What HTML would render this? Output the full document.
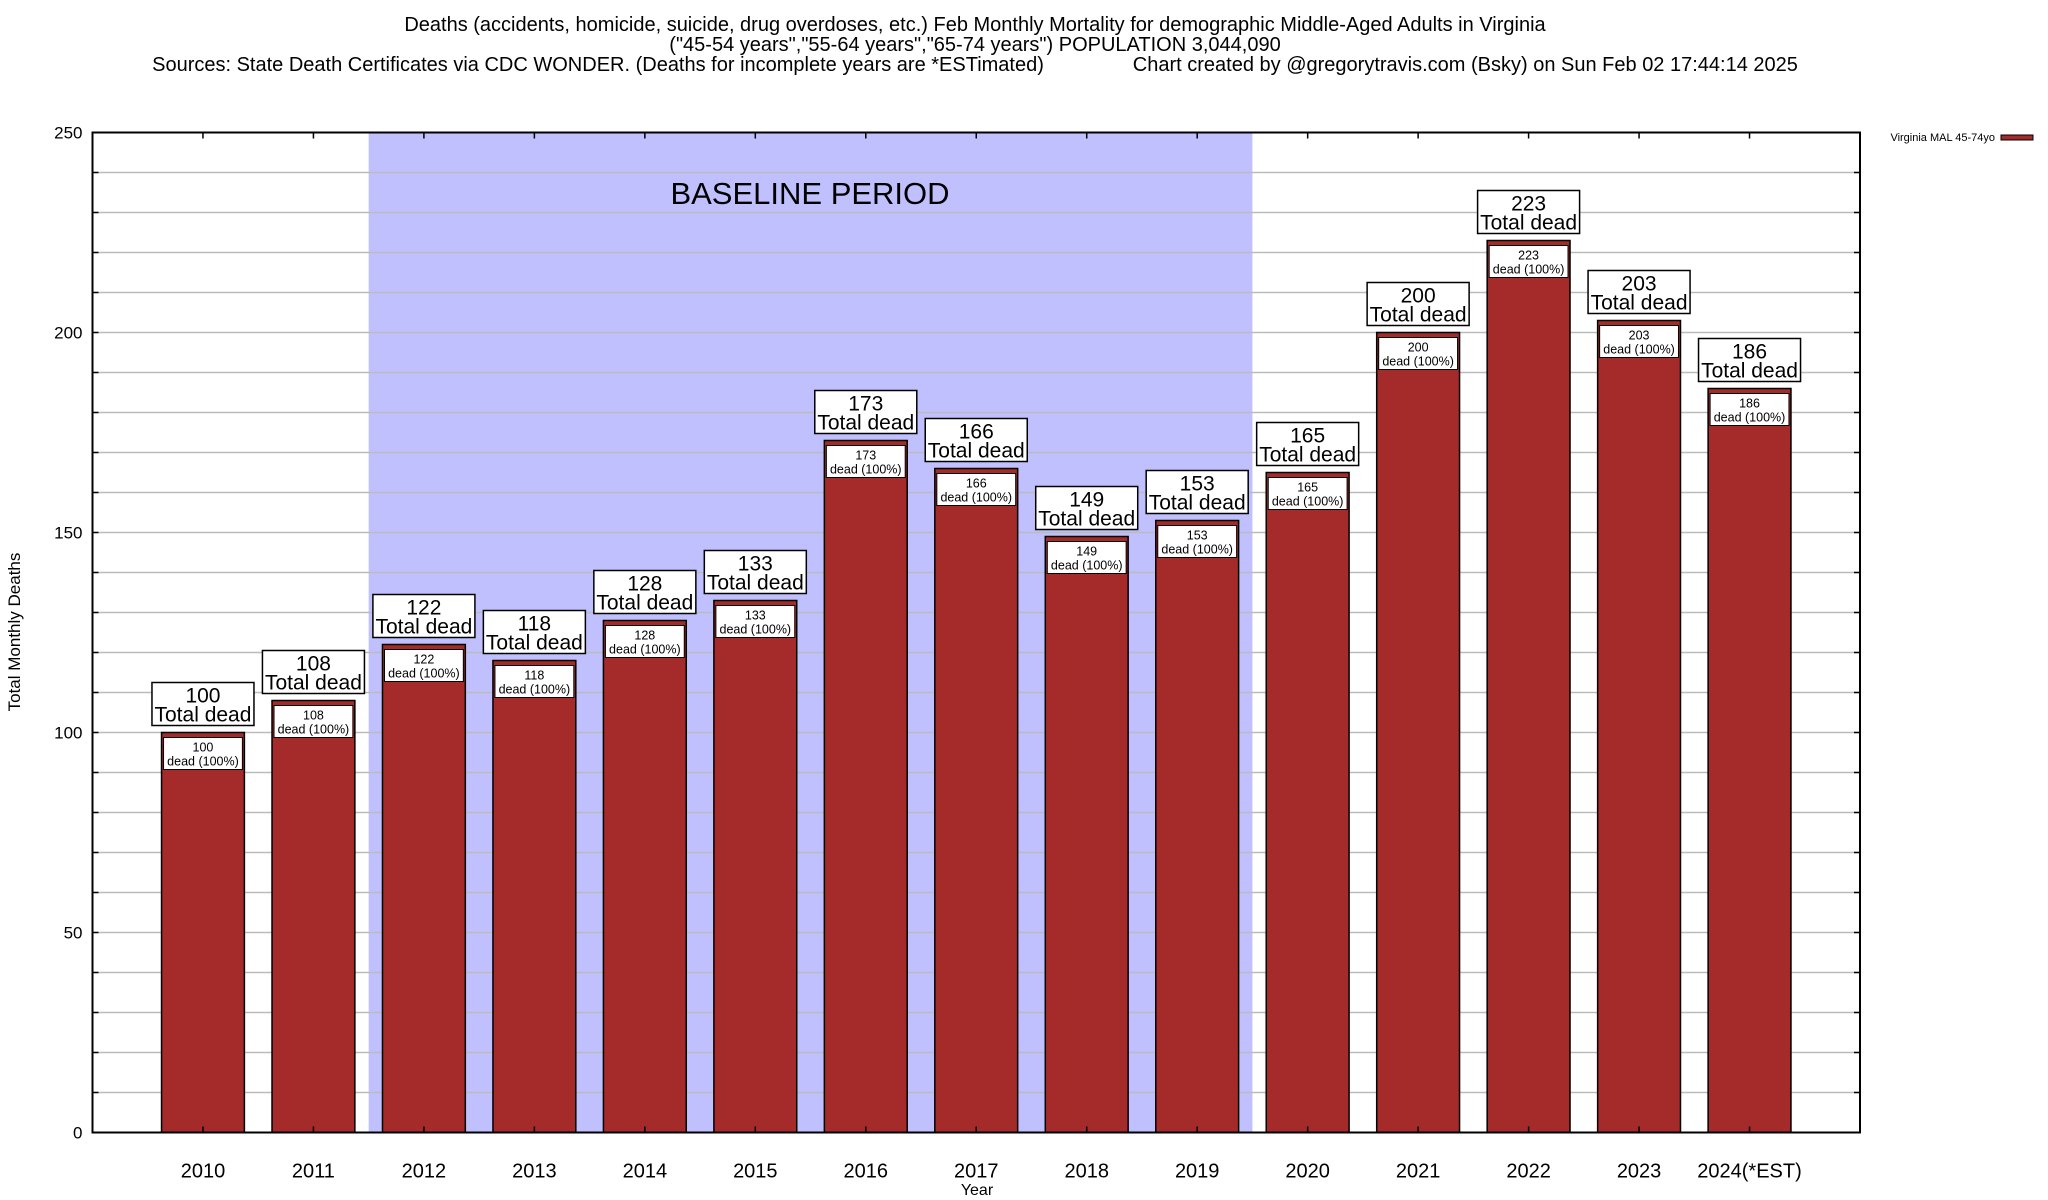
<!DOCTYPE html>
<html><head><meta charset="utf-8">
<style>
body{margin:0;background:#fff;}
svg{display:block;font-family:"Liberation Sans",sans-serif;}
</style></head>
<body>
<svg id="chart" width="2048" height="1200" xmlns="http://www.w3.org/2000/svg">
<g font-size="20" text-anchor="middle" fill="#000">
<text x="975" y="31">Deaths (accidents, homicide, suicide, drug overdoses, etc.) Feb Monthly Mortality for demographic Middle-Aged Adults in Virginia</text>
<text x="975" y="51">("45-54 years","55-64 years","65-74 years") POPULATION 3,044,090</text>
<text x="975" y="71" xml:space="preserve">Sources: State Death Certificates via CDC WONDER. (Deaths for incomplete years are *ESTimated)                Chart created by @gregorytravis.com (Bsky) on Sun Feb 02 17:44:14 2025</text>
</g>
<g id="grid"></g>
<rect id="baseline" fill="#c0c0ff"/>
<text id="baselineText" x="810" y="204" font-size="31" text-anchor="middle">BASELINE PERIOD</text>
<g id="ygrid"></g>
<g id="bars"></g>
<rect x="92.5" y="132.5" width="1767.5" height="1000" fill="none" stroke="#000" stroke-width="2"/>
<g id="axes"></g>
<text x="0" y="0" transform="translate(20,632) rotate(-90)" font-size="17" text-anchor="middle">Total Monthly Deaths</text>
<text x="977" y="1195" font-size="16" text-anchor="middle">Year</text>
<g>
<text x="1995" y="141" font-size="11" text-anchor="end">Virginia MAL 45-74yo</text>
<rect x="2001" y="135" width="32" height="5" fill="#a52a2a" stroke="#000" stroke-width="1"/>
</g>
</svg>
<script>
const categories = ["2010","2011","2012","2013","2014","2015","2016","2017","2018","2019","2020","2021","2022","2023","2024(*EST)"];
const values = [100,108,122,118,128,133,173,166,149,153,165,200,223,203,186];
const yTicks = [0,50,100,150,200,250];
const baselineRange = [1.5, 9.5];

const NS="http://www.w3.org/2000/svg";
const L=92.5,R=1860,T=132.5,B=1132.5;
const xMin=-1,xMax=15,yMax=250;
const xs=i=>L+(i-xMin)/(xMax-xMin)*(R-L);
const ys=v=>B-v/yMax*(B-T);
function mk(tag,attrs,parent){const e=document.createElementNS(NS,tag);for(const k in attrs)e.setAttribute(k,attrs[k]);parent.appendChild(e);return e;}

const bl=document.getElementById('baseline');
bl.setAttribute('x',xs(baselineRange[0]));bl.setAttribute('y',T);
bl.setAttribute('width',xs(baselineRange[1])-xs(baselineRange[0]));bl.setAttribute('height',B-T);

const yg=document.getElementById('ygrid'), ax=document.getElementById('axes');
for(let v=10;v<yMax;v+=10){
  const l=mk('line',{x1:L,x2:R,y1:ys(v),y2:ys(v),stroke:'#bbb','stroke-width':1.5},yg);
  
  
}
for(let v=0;v<=yMax;v+=10){
  mk('line',{x1:L,x2:L+6,y1:ys(v),y2:ys(v),stroke:'#000','stroke-width':1.5},ax);
  mk('line',{x1:R,x2:R-6,y1:ys(v),y2:ys(v),stroke:'#000','stroke-width':1.5},ax);
}
yTicks.forEach(v=>{
  const t=mk('text',{x:L-10,y:ys(v)+6,'font-size':17,'text-anchor':'end'},ax);
  t.textContent=v;
  
  
});
const bars=document.getElementById('bars');
const bw=0.75*(xs(1)-xs(0));
categories.forEach((c,i)=>{
  const cx=xs(i), v=values[i], y=ys(v);
  mk('line',{x1:cx,x2:cx,y1:T,y2:T+6,stroke:'#000','stroke-width':1.5},ax);
  mk('line',{x1:cx,x2:cx,y1:B,y2:B-6,stroke:'#000','stroke-width':1.5},ax);
  const t=mk('text',{x:cx,y:B+45,'font-size':20,'text-anchor':'middle'},ax);
  t.textContent=c;
  
  
  const g=mk('g',{},bars);
  
  
  mk('rect',{x:cx-bw/2,y:y,width:bw,height:B-y,fill:'#a52a2a',stroke:'#000','stroke-width':1.5},g);
  mk('rect',{x:cx-bw/2+2,y:y+5,width:bw-4,height:32,fill:'#fff',stroke:'#000','stroke-width':1},g);
  const t1=mk('text',{x:cx,y:y+19,'font-size':12.5,'text-anchor':'middle'},g);t1.textContent=v;
  const t2=mk('text',{x:cx,y:y+33,'font-size':12.5,'text-anchor':'middle'},g);t2.textContent='dead (100%)';
  const lg=mk('g',{},bars);
  
  
  mk('rect',{x:cx-51,y:y-50,width:102,height:43,fill:'#fff',stroke:'#000','stroke-width':1.5},lg);
  const o1=mk('text',{x:cx,y:y-30,'font-size':21,'text-anchor':'middle'},lg);o1.textContent=v;
  const o2=mk('text',{x:cx,y:y-11,'font-size':21,'text-anchor':'middle'},lg);o2.textContent='Total dead';
});
</script>
</body></html>
